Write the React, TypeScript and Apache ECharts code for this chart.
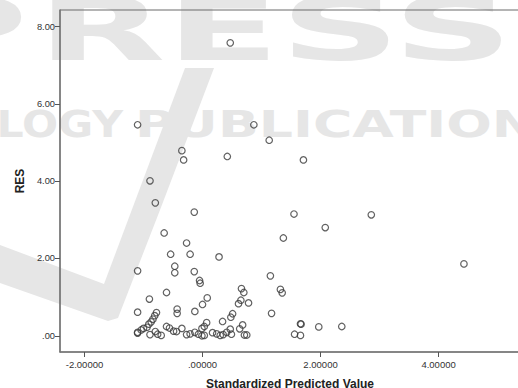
import React, { useEffect, useRef } from "react";
import * as echarts from "echarts";

// Standardized predicted value (x) and residual RES (y)
const predictedValues: number[] = [
  0.47, -1.10, 0.87, -0.35, -0.32, 0.42, -0.89, 1.13, 1.71,
  -0.80, -0.14, -0.65, -0.27, -0.54, -0.21, 0.28, -1.10, -0.47, -0.47, -0.14, -0.05, -0.04,
  -0.90, -0.61, 0.08, 0.00, -1.10, -0.43, -0.43, -0.13,
  -0.78, -0.81, -0.84, -0.87, -0.91, -0.94, -1.00, -1.04, -1.10, -1.10,
  -0.89, -0.80, -0.76, -0.70, -0.61, -0.56, -0.49, -0.44, -0.35,
  -0.27, -0.21, -0.13, -0.07, -0.01, -0.01, 0.03, 0.07, 0.03,
  0.17, 0.24, 0.30, 0.35, 0.41, 0.34, 0.47, 0.49, 0.48, 0.51,
  0.63, 0.68, 0.71, 0.75, 0.61, 0.65, 0.66, 0.70, 0.78,
  1.55, 2.86, 2.08, 1.37, 4.43, 1.15, 1.32, 1.35, 1.17, 1.66, 1.67, 1.97, 2.36, 1.56, 1.66,
];
const residuals: number[] = [
  7.58, 5.46, 5.46, 4.79, 4.55, 4.64, 4.01, 5.06, 4.55,
  3.44, 3.20, 2.66, 2.40, 2.11, 2.11, 2.04, 1.68, 1.80, 1.63, 1.66, 1.43, 1.36,
  0.95, 1.12, 0.98, 0.81, 0.61, 0.69, 0.58, 0.63,
  0.60, 0.52, 0.43, 0.36, 0.30, 0.22, 0.19, 0.15, 0.09, 0.07,
  0.03, 0.11, 0.04, 0.01, 0.24, 0.20, 0.12, 0.11, 0.19,
  0.03, 0.05, 0.09, 0.04, 0.00, 0.19, 0.24, 0.34, 0.01,
  0.08, 0.05, 0.01, 0.03, 0.09, 0.37, 0.17, 0.04, 0.48, 0.57,
  0.18, 0.28, 0.02, 0.02, 0.83, 0.92, 1.22, 1.12, 0.85,
  3.15, 3.13, 2.80, 2.53, 1.86, 1.55, 1.20, 1.11, 0.58, 0.31, 0.30, 0.23, 0.24, 0.04, 0.01,
];

const xTickValues: number[] = [-2, 0, 2, 4];
const xTickLabels: string[] = ["-2.00000", ".00000", "2.00000", "4.00000"];
const yTickValues: number[] = [0, 2, 4, 6, 8];
const yTickLabels: string[] = [".00", "2.00", "4.00", "6.00", "8.00"];

const xName = "Standardized Predicted Value";
const yName = "RES";

const WM = "#e6e6e6";

export default function App() {
  const ref = useRef<HTMLDivElement>(null);

  useEffect(() => {
    if (!ref.current) return;
    const chart = echarts.init(ref.current, undefined, { renderer: "svg" });
    const points = predictedValues.map((x, i) => [x, residuals[i]]);

    chart.setOption({
      animation: false,
      backgroundColor: "#ffffff",
      grid: {
        left: 60,
        top: 10,
        right: -2,
        bottom: 36,
        containLabel: false,
        outerBoundsMode: "none",
        show: true,
        backgroundColor: "transparent",
        borderColor: "#6a6a6a",
        borderWidth: 1,
      },
      graphic: {
        elements: [
          {
            type: "polygon",
            z: -1,
            silent: true,
            x: 0,
            y: 0,
            shape: {
              points: [
                [185, 68], [214, 68], [160, 210], [118, 318], [108, 321],
                [0, 283], [0, 245], [104, 284],
              ],
            },
            style: { fill: WM },
          },
          {
            type: "text", z: -1, silent: true, x: 28, y: 30, scaleX: 1.9,
            style: { text: "P", fill: WM, font: 'bold 88px "DejaVu Sans"', align: "right", verticalAlign: "middle" },
          },
          {
            type: "text", z: -1, silent: true, x: 37, y: 30, scaleX: 1.9,
            style: { text: "RESS", fill: WM, font: 'bold 88px "DejaVu Sans"', align: "left", verticalAlign: "middle" },
          },
          {
            type: "text", z: -1, silent: true, x: 123, y: 124, scaleX: 1.15,
            style: { text: "LOGY", fill: WM, font: 'bold 37px "DejaVu Sans"', align: "right", verticalAlign: "middle" },
          },
          {
            type: "text", z: -1, silent: true, x: 135, y: 124, scaleX: 1.45,
            style: { text: "PUBLICATIONS", fill: WM, font: 'bold 37px "DejaVu Sans"', align: "left", verticalAlign: "middle" },
          },
        ],
      },
      xAxis: {
        type: "value",
        min: -2.415,
        max: 5.38,
        name: xName,
        nameLocation: "middle",
        nameGap: 26,
        nameTextStyle: { fontFamily: "Liberation Sans", fontWeight: "bold", fontSize: 12, color: "#222" },
        axisLine: { show: true, onZero: false, lineStyle: { color: "#777", width: 1.5 } },
        axisTick: { show: true, inside: false, length: 5, customValues: xTickValues, lineStyle: { color: "#555" } },
        axisLabel: {
          customValues: xTickValues,
          margin: 7,
          fontFamily: "Liberation Sans",
          fontSize: 9.5,
          color: "#333",
          formatter: (v: number) => {
            const i = xTickValues.indexOf(v);
            return i >= 0 ? xTickLabels[i] : "";
          },
        },
        splitLine: { show: false },
      },
      yAxis: {
        type: "value",
        min: -0.42,
        max: 8.43,
        name: yName,
        nameLocation: "middle",
        nameRotate: 90,
        nameGap: 32,
        nameTextStyle: { fontFamily: "Liberation Sans", fontWeight: "bold", fontSize: 12, color: "#222" },
        axisLine: { show: true, onZero: false, lineStyle: { color: "#777", width: 1.5 } },
        axisTick: { show: true, inside: false, length: 5, customValues: yTickValues, lineStyle: { color: "#555" } },
        axisLabel: {
          customValues: yTickValues,
          margin: 5,
          fontFamily: "Liberation Sans",
          fontSize: 9.3,
          color: "#333",
          formatter: (v: number) => {
            const i = yTickValues.indexOf(v);
            return i >= 0 ? yTickLabels[i] : "";
          },
        },
        splitLine: { show: false },
      },
      series: [
        {
          type: "scatter",
          data: points,
          symbol: "circle",
          symbolSize: 6.5,
          itemStyle: { color: "rgba(0,0,0,0)", borderColor: "#3a3a3a", borderWidth: 1.2 },
          z: 3,
        },
      ],
    });

    return () => chart.dispose();
  }, []);

  return (
    <div
      ref={ref}
      style={{ position: "fixed", left: 0, top: 0, width: 518, height: 388, background: "#fff" }}
    />
  );
}
